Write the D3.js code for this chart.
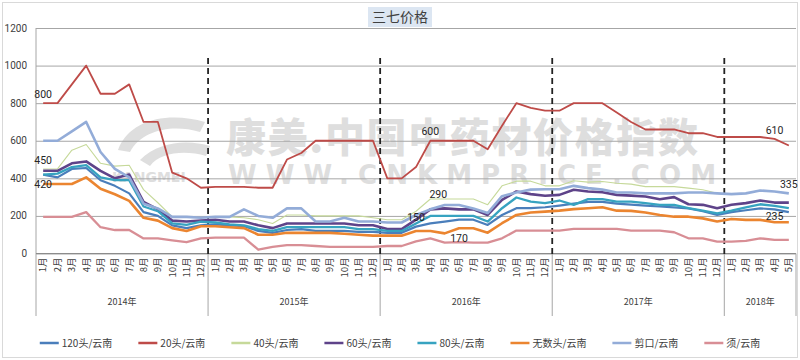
<!DOCTYPE html>
<html><head><meta charset="utf-8">
<script src="https://cdn.jsdelivr.net/npm/d3@7"></script>
<style>body{margin:0;background:#fff}</style>
</head><body><svg id="c" width="800" height="360"></svg>
<script>
const monthLabels = ["1月","2月","3月","4月","5月","6月","7月","8月","9月","10月","11月","12月",
"1月","2月","3月","4月","5月","6月","7月","8月","9月","10月","11月","12月",
"1月","2月","3月","4月","5月","6月","7月","8月","9月","10月","11月","12月",
"1月","2月","3月","4月","5月","6月","7月","8月","9月","10月","11月","12月",
"1月","2月","3月","4月","5月"];
const yearLabels = ["2014年","2015年","2016年","2017年","2018年"];
const yearSizes = [12,12,12,12,5];
const yTicks = [0,200,400,600,800,1000,1200];
const titleText = "三七价格";

const seriesNames = ["120头/云南","20头/云南","40头/云南","60头/云南","80头/云南","无数头/云南","剪口/云南","须/云南"];
const seriesColors = ["#4A7EBB","#BE4B48","#C6D99A","#5E4389","#37A3C0","#EB8530","#93ACD8","#D88E95"];
const seriesWidths = [2.2,1.8,1.1,2.6,2.3,2.6,2.6,2.3];

const v120 = [420,405,450,455,390,360,320,220,200,150,135,150,
155,150,145,120,110,125,130,120,120,120,115,115,
110,110,143,160,170,180,180,152,205,241,241,246,
255,265,275,275,265,260,255,250,245,240,225,205,
220,230,240,235,220];
const v20 = [800,800,900,1000,850,850,900,700,700,430,400,350,
355,355,355,350,350,500,535,600,600,600,600,600,
400,400,460,600,600,600,600,555,680,800,775,760,
760,800,800,800,750,700,660,660,660,640,640,620,
620,620,620,610,575];
const v40 = [450,450,550,580,480,465,470,340,270,195,195,190,
195,195,190,180,160,205,205,200,200,200,200,190,
180,180,225,290,290,290,290,260,360,385,385,360,
360,387,380,383,374,369,356,356,356,348,339,321,
null,null,null,null,null];
const v60 = [440,440,480,490,440,400,420,275,235,175,170,175,
180,170,170,150,135,160,160,160,160,160,150,150,
130,130,180,235,240,235,235,205,285,330,316,307,
312,339,330,326,312,308,303,289,300,262,259,241,
259,268,282,271,271];
const v80 = [420,425,460,470,405,390,390,250,225,160,152,169,
165,155,150,130,120,140,140,140,140,140,130,130,
120,120,160,200,200,200,200,170,241,298,276,268,
282,259,289,289,276,276,268,259,259,241,228,214,
228,246,262,253,241];
const vWu = [370,370,370,405,345,315,280,190,175,135,120,145,
145,140,135,100,100,110,110,110,110,105,100,95,
95,95,120,120,107,134,134,111,161,205,218,223,
228,236,241,246,228,227,218,205,196,196,187,170,
184,179,179,166,166];
const vJian = [600,600,650,700,540,450,405,265,240,195,195,190,
195,195,235,200,190,240,240,170,170,190,170,170,
165,165,205,235,258,258,240,215,305,325,340,342,
342,360,348,340,325,325,320,320,320,325,325,320,
316,320,335,330,320];
const vXu = [195,195,195,220,140,125,125,80,80,70,60,80,
85,85,85,20,35,45,45,40,35,35,35,35,
40,40,65,80,58,60,58,58,81,122,122,122,
122,131,131,131,131,122,122,122,113,81,81,63,
63,67,81,72,72];
const seriesValues = [v120,v20,v40,v60,v80,vWu,vJian,vXu];

const dataLabels = [
  {series:1, index:0, text:"800", pos:"above"},
  {series:2, index:0, text:"450", pos:"above"},
  {series:0, index:0, text:"420", pos:"below"},
  {series:1, index:27, text:"600", pos:"above"},
  {series:2, index:27, text:"290", pos:"aboveRight"},
  {series:0, index:26, text:"150", pos:"above"},
  {series:5, index:29, text:"170", pos:"below"},
  {series:1, index:51, text:"610", pos:"above"},
  {series:6, index:52, text:"335", pos:"above"},
  {series:4, index:51, text:"235", pos:"below"}
];

const svg = d3.select("#c");
const m = {left:36, right:796, top:28, bottom:253.5};
const x = d3.scaleBand().domain(d3.range(monthLabels.length)).range([m.left, m.right]);
const cx = i => x(i) + x.bandwidth()/2;
const y = d3.scaleLinear().domain([0,1200]).range([m.bottom, m.top]);
const numFont = "Roboto, 'Liberation Sans', sans-serif";
const cjkFont = "'Noto Sans CJK SC', sans-serif";

// outer border
svg.append("rect").attr("x",2.5).attr("y",2.5).attr("width",795).attr("height",355)
  .attr("fill","#fff").attr("stroke","#D9D9D9");

// watermark
const wm = svg.append("g").attr("fill","#d6d6d6").attr("opacity",0.8);
wm.append("text").attr("x",226).attr("y",152).attr("font-family",cjkFont).attr("font-weight",900)
  .attr("font-size",40).attr("textLength",472).attr("lengthAdjust","spacing").text("康美.中国中药材价格指数");
wm.append("text").attr("x",112).attr("y",182).attr("font-family","'DejaVu Sans', sans-serif").attr("font-weight",700)
  .attr("font-size",14).text("KANGMEI");
wm.append("text").attr("x",228).attr("y",184).attr("font-family","'DejaVu Sans', sans-serif").attr("font-weight",700)
  .attr("font-size",26).attr("textLength",488).attr("lengthAdjust","spacing").text("WWW.CNKMPRICE.COM");
wm.append("path").attr("d","M118,150 C130,118 170,112 205,122 L200,132 C172,124 142,130 130,152 Z");
wm.append("path").attr("d","M140,160 C160,140 190,140 210,146 L206,156 C186,150 160,152 150,166 Z");

// gridlines
svg.append("g").attr("transform",`translate(${m.left},0)`)
  .call(d3.axisLeft(y).tickValues(yTicks).tickSize(-(m.right-m.left)).tickFormat(""))
  .call(g=>g.select(".domain").remove())
  .call(g=>g.selectAll("line").attr("stroke","#A6A6A6").attr("stroke-width",1));

// y tick labels
svg.append("g").selectAll("text").data(yTicks).join("text")
  .attr("x",27).attr("y",d=>y(d)).attr("dy","0.35em").attr("text-anchor","end")
  .attr("font-family",numFont).attr("font-size",10).attr("fill","#404040").text(d=>d);

// axes lines
svg.append("line").attr("x1",m.left).attr("x2",m.left).attr("y1",m.top).attr("y2",316).attr("stroke","#A6A6A6");
svg.append("line").attr("x1",m.left).attr("x2",m.right).attr("y1",m.bottom).attr("y2",m.bottom).attr("stroke","#8C8C8C");

// year separators & labels
let start = 0;
const bounds = [];
yearSizes.forEach((n,k)=>{ bounds.push({s:start,e:start+n,label:yearLabels[k]}); start+=n; });
bounds.forEach(b=>{
  const xe = b.e < monthLabels.length ? x(b.e) : m.right;
  svg.append("line").attr("x1",xe).attr("x2",xe).attr("y1",m.bottom).attr("y2",316).attr("stroke","#A6A6A6");
  svg.append("text").attr("x",(x(b.s)+xe)/2).attr("y",305).attr("text-anchor","middle")
    .attr("font-family",cjkFont).attr("font-size",9).attr("fill","#404040").text(b.label);
});
// dashed year lines
bounds.slice(0,-1).forEach(b=>{
  svg.append("line").attr("x1",x(b.e)).attr("x2",x(b.e)).attr("y1",58).attr("y2",m.bottom+4)
    .attr("stroke","#222").attr("stroke-width",1.8).attr("stroke-dasharray","6,4");
});

// month labels
svg.append("g").attr("transform",`translate(0,${m.bottom})`)
  .call(d3.axisBottom(x).tickSize(0).tickFormat(i=>monthLabels[i]))
  .call(g=>g.select(".domain").remove())
  .call(g=>g.selectAll("text").attr("transform","rotate(-90)").attr("text-anchor","end")
     .attr("x",-4).attr("y",0).attr("dy","0.35em")
     .attr("font-family",cjkFont).attr("font-size",9.5).attr("fill","#404040"));

// lines
const line = d3.line().defined(d=>d!=null).x((d,i)=>cx(i)).y(d=>y(d));
seriesValues.forEach((vals,k)=>{
  svg.append("path").datum(vals).attr("fill","none").attr("stroke",seriesColors[k])
    .attr("stroke-width",seriesWidths[k]).attr("stroke-linejoin","round").attr("d",line);
});

// data labels
dataLabels.forEach(l=>{
  const px = cx(l.index), py = y(seriesValues[l.series][l.index]);
  let tx = px, ty = py;
  if (l.pos==="above") ty = py - 9;
  else if (l.pos==="below") ty = py + 10;
  else if (l.pos==="aboveRight") { tx = px + 8; ty = py - 5; }
  svg.append("text").attr("x",tx).attr("y",ty).attr("dy","0.35em").attr("text-anchor","middle")
    .attr("font-family",numFont).attr("font-size",10.5).attr("fill","#262626").text(l.text);
});

// title
const tg = svg.append("g");
tg.append("rect").attr("x",368).attr("y",7).attr("width",64).attr("height",20).attr("fill","#DCE6F2");
tg.append("text").attr("x",400).attr("y",17).attr("dy","0.36em").attr("text-anchor","middle")
  .attr("font-family",cjkFont).attr("font-size",14).attr("fill","#404040").text(titleText);

// legend
const lg = svg.append("g");
let lx = 0;
const items = [];
seriesNames.forEach((n,k)=>{
  const g = lg.append("g");
  g.append("line").attr("x1",0).attr("x2",19).attr("y1",0).attr("y2",0).attr("stroke",seriesColors[k]).attr("stroke-width",2.5);
  const t = g.append("text").attr("x",22).attr("y",0).attr("dy","0.35em")
    .attr("font-family",cjkFont).attr("font-size",10).attr("fill","#404040").text(n);
  items.push({g, w: 22 + t.node().getComputedTextLength()});
});
const gap = 26;
const total = d3.sum(items,d=>d.w) + gap*(items.length-1);
lx = 400 - total/2;
items.forEach(it=>{ it.g.attr("transform",`translate(${lx},343)`); lx += it.w + gap; });
</script></body></html>
